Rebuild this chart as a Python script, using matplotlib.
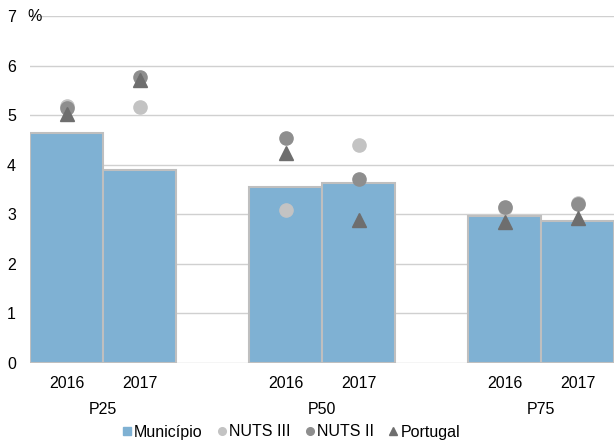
import numpy as np
import matplotlib.pyplot as plt
from matplotlib.lines import Line2D
import matplotlib.transforms as mtransforms

plt.rcParams['font.family'] = ['Liberation Sans', 'DejaVu Sans']

# data
groups = ['P25', 'P50', 'P75']
years = ['2016', '2017']
municipio = [4.64, 3.89, 3.55, 3.63, 2.96, 2.86]
nuts3 = [5.18, 5.16, 3.08, 4.40, 3.12, 3.23]
nuts2 = [5.14, 5.77, 4.54, 3.71, 3.14, 3.21]
portugal = [5.03, 5.70, 4.23, 2.88, 2.84, 2.93]

# bar slots: two bars per group, one empty slot between groups
x = np.array([0, 1, 3, 4, 6, 7])

fig = plt.figure(figsize=(6.14, 4.41), dpi=100)
ax = fig.add_axes([30 / 614, 78 / 441, 584 / 614, 347 / 441])

ax.bar(x, municipio, width=1.0, color='#7FB1D3', edgecolor='#BFBFBF',
       linewidth=1.5, zorder=2)
ax.plot(x, nuts3, 'o', color='#C3C3C3', markersize=9.5, zorder=3)
ax.plot(x, nuts2, 'o', color='#8E8E8E', markersize=9.5, zorder=4)
ax.plot(x, portugal, '^', color='#6E6E6E', markersize=9.5, zorder=5)

ax.set_xlim(-0.5, 7.5)
ax.set_ylim(0, 7)
ax.set_yticks(range(0, 8))
ax.grid(axis='y', color='#D0D0D0', linewidth=1, zorder=0)
for s in ax.spines.values():
    s.set_visible(False)
ax.tick_params(axis='y', length=0, labelsize=11.5, pad=10)

ax.set_xticks(x)
ax.set_xticklabels(years * 3)
ax.tick_params(axis='x', length=0, labelsize=11.5, pad=9)

trans = mtransforms.blended_transform_factory(ax.transData, fig.transFigure)
for i, g in enumerate(groups):
    ax.text(3 * i + 0.5, 1 - 409 / 441, g, transform=trans,
            ha='center', va='center', fontsize=11.5)

ax.text(-0.53, 7, '%', ha='left', va='center', fontsize=11.5)

handles = [
    Line2D([], [], marker='s', linestyle='', color='#7FB1D3', markersize=5.5),
    Line2D([], [], marker='o', linestyle='', color='#C3C3C3', markersize=5.5),
    Line2D([], [], marker='o', linestyle='', color='#8E8E8E', markersize=5.5),
    Line2D([], [], marker='^', linestyle='', color='#6E6E6E', markersize=5.5),
]
fig.legend(handles, ['Município', 'NUTS III', 'NUTS II', 'Portugal'],
           loc='center', bbox_to_anchor=(291 / 614, 1 - 432 / 441), ncol=4,
           frameon=False, fontsize=11.5, handlelength=0.6, handletextpad=0.15,
           columnspacing=0.9, borderpad=0)

fig.savefig('out.png', dpi=100)
